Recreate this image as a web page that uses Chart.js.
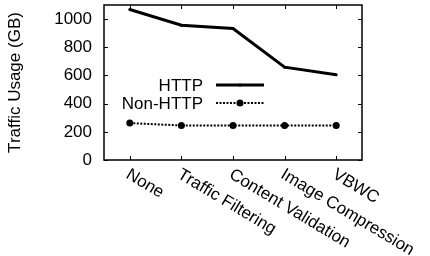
<!DOCTYPE html>
<html><head><meta charset="utf-8">
<script src="https://cdn.jsdelivr.net/npm/chart.js@4/dist/chart.umd.min.js"></script>
<style>html,body{margin:0;padding:0;background:#fff}#wrap{width:430px;height:256px}</style>
</head><body><div id="wrap"><canvas id="c" width="430" height="256"></canvas></div>
<script>
const categories = ["None", "Traffic Filtering", "Content Validation", "Image Compression", "VBWC"];
const httpValues = [1068, 957, 933, 659, 605];
const nonHttpValues = [262, 245, 245, 245, 245];
const yTicks = [0, 200, 400, 600, 800, 1000];
const FONT = "'Liberation Sans', Arial, sans-serif";
const FS = 17;

const framePlugin = {
  id: 'frame',
  afterDatasetsDraw(chart) {
    const ctx = chart.ctx, a = chart.chartArea, xs = chart.scales.x, ys = chart.scales.y;
    ctx.save();
    ctx.strokeStyle = '#000'; ctx.lineWidth = 1.5;
    ctx.strokeRect(a.left, a.top, a.right - a.left, a.bottom - a.top);
    ctx.lineWidth = 1;
    const L = 4;
    ctx.beginPath();
    yTicks.forEach(v => {
      const y = Math.round(ys.getPixelForValue(v)) + 0.5;
      ctx.moveTo(a.left, y); ctx.lineTo(a.left + L, y);
      ctx.moveTo(a.right, y); ctx.lineTo(a.right - L, y);
    });
    categories.forEach((c, i) => {
      const x = Math.round(xs.getPixelForTick(i)) + 0.5;
      ctx.moveTo(x, a.bottom); ctx.lineTo(x, a.bottom - L);
      ctx.moveTo(x, a.top); ctx.lineTo(x, a.top + L);
    });
    ctx.stroke();
    ctx.fillStyle = '#000';
    ctx.font = FS + 'px ' + FONT;
    ctx.textAlign = 'left'; ctx.textBaseline = 'top';
    categories.forEach((c, i) => {
      const x = xs.getPixelForTick(i);
      ctx.save();
      ctx.translate(x + 2, a.bottom + 6);
      ctx.rotate(31 * Math.PI / 180);
      ctx.fillText(c, 0, 0);
      ctx.restore();
    });
    const lx1 = 216, lx2 = 264, tx = 203;
    const rows = [{y: 85, ds: chart.data.datasets[0]}, {y: 103, ds: chart.data.datasets[1]}];
    ctx.textAlign = 'right'; ctx.textBaseline = 'middle';
    rows.forEach(r => {
      ctx.fillText(r.ds.label, tx, r.y + 1);
      ctx.save();
      ctx.strokeStyle = '#000';
      ctx.lineWidth = r.ds.borderWidth;
      ctx.setLineDash(r.ds.borderDash || []);
      ctx.beginPath(); ctx.moveTo(lx1, r.y); ctx.lineTo(lx2, r.y); ctx.stroke();
      ctx.setLineDash([]);
      ctx.beginPath(); ctx.arc((lx1 + lx2) / 2, r.y, r.ds.pointRadius, 0, Math.PI * 2); ctx.fill();
      ctx.restore();
    });
    ctx.restore();
  }
};

new Chart(document.getElementById('c'), {
  type: 'line',
  data: {
    labels: categories,
    datasets: [
      {label: 'HTTP', data: httpValues, borderColor: '#000', backgroundColor: '#000', borderWidth: 3, pointRadius: 1.5, pointBorderWidth: 0, tension: 0},
      {label: 'Non-HTTP', data: nonHttpValues, borderColor: '#000', backgroundColor: '#000', borderWidth: 2, borderDash: [2, 1.5], pointRadius: 3.5, pointBorderWidth: 0, tension: 0}
    ]
  },
  options: {
    responsive: false, animation: false, devicePixelRatio: 1,
    layout: {padding: {left: 0, top: 5, right: 68, bottom: 0}},
    plugins: {legend: {display: false}, tooltip: {enabled: false}},
    scales: {
      x: {
        offset: true,
        grid: {display: false, drawTicks: false}, border: {display: false},
        ticks: {display: false},
        afterFit(s) { s.height = 96; s.paddingLeft = 0; s.paddingRight = 0; }
      },
      y: {
        min: 0, max: 1100,
        grid: {display: false, drawTicks: false}, border: {display: false},
        afterBuildTicks(s) { s.ticks = yTicks.map(v => ({value: v})); },
        ticks: {color: '#000', font: {family: FONT, size: FS}, padding: 12, callback: v => String(v)},
        title: {display: true, text: 'Traffic Usage (GB)', color: '#000', font: {family: FONT, size: FS}, padding: {top: 5, bottom: 0}},
        afterFit(s) { s.width = 104; s.paddingTop = 0; s.paddingBottom = 0; }
      }
    }
  },
  plugins: [framePlugin]
});
</script></body></html>
